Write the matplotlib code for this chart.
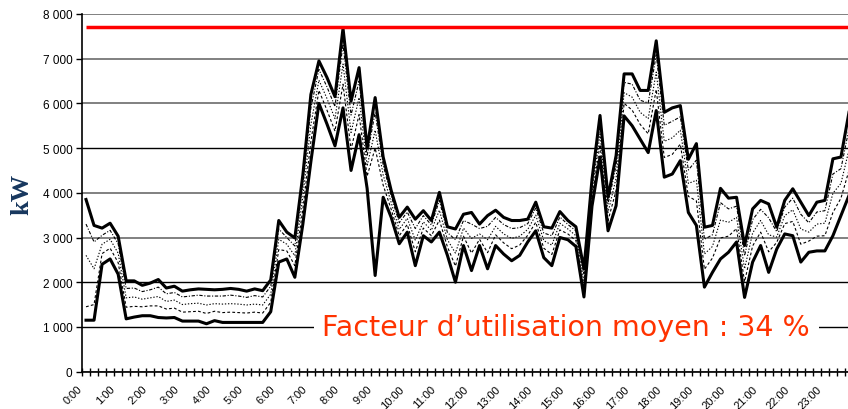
import numpy as np
import matplotlib.pyplot as plt
from matplotlib.transforms import ScaledTranslation

hours = ["0:00", "1:00", "2:00", "3:00", "4:00", "5:00", "6:00", "7:00",
         "8:00", "9:00", "10:00", "11:00", "12:00", "13:00", "14:00", "15:00",
         "16:00", "17:00", "18:00", "19:00", "20:00", "21:00", "22:00", "23:00"]

# quarter-hour load, kW (highest and lowest day of the set)
upper = [3850, 3270, 3210, 3320, 3030, 2030, 2030, 1930, 1980, 2060, 1870, 1910,
         1800, 1830, 1850, 1840, 1830, 1840, 1860, 1840, 1800, 1850, 1810, 2050,
         3380, 3120, 2990, 4400, 6200, 6950, 6580, 6150, 7680, 6050, 6800, 5000,
         6130, 4800, 4050, 3450, 3680, 3410, 3600, 3380, 4010, 3240, 3190, 3520,
         3560, 3300, 3490, 3610, 3450, 3380, 3380, 3410, 3790, 3240, 3210, 3580,
         3380, 3240, 2300, 4300, 5730, 3900, 4830, 6660, 6660, 6290, 6290, 7400,
         5800, 5900, 5950, 4750, 5100, 3230, 3270, 4100, 3880, 3900, 2820, 3640,
         3830, 3750, 3230, 3830, 4090, 3790, 3490, 3790, 3830, 4760, 4800, 5800]
lower = [1150, 1150, 2400, 2520, 2180, 1180, 1220, 1250, 1250, 1210, 1200, 1210,
         1130, 1130, 1130, 1070, 1140, 1100, 1100, 1100, 1100, 1100, 1100, 1340,
         2450, 2520, 2110, 3300, 4700, 6000, 5540, 5050, 5900, 4500, 5300, 4100,
         2150, 3900, 3450, 2860, 3120, 2370, 3040, 2900, 3120, 2600, 2000, 2820,
         2260, 2820, 2300, 2820, 2630, 2480, 2600, 2900, 3150, 2550, 2370, 3000,
         2950, 2800, 1670, 3700, 4800, 3150, 3710, 5720, 5500, 5200, 4900, 5840,
         4350, 4420, 4720, 3560, 3270, 1890, 2220, 2520, 2670, 2900, 1660, 2450,
         2820, 2220, 2740, 3080, 3040, 2450, 2670, 2700, 2700, 3040, 3490, 3940]

# other days, dashed
day_a = [1450, 1500, 2640, 2760, 2440, 1440, 1460, 1450, 1470, 1470, 1400, 1420,
         1330, 1340, 1350, 1300, 1350, 1320, 1330, 1320, 1310, 1330, 1310, 1550,
         2730, 2700, 2370, 3630, 5150, 6290, 5850, 5380, 6430, 4970, 5750, 4370,
         5000, 4170, 3630, 3040, 3290, 2680, 3210, 3040, 3390, 2790, 2360, 3030,
         2650, 2960, 2660, 3060, 2880, 2750, 2830, 3050, 3340, 2760, 2620, 3170,
         3080, 2930, 1860, 3880, 5080, 3380, 4050, 6000, 5850, 5530, 5320, 6310,
         4790, 4860, 5090, 3920, 3820, 2290, 2540, 2990, 3030, 3200, 2010, 2810,
         3120, 2680, 2890, 3310, 3360, 2850, 2920, 3030, 3040, 3560, 3880, 4500]
day_b = [2600, 2300, 2850, 2960, 2650, 1650, 1670, 1620, 1650, 1680, 1570, 1600,
         1500, 1520, 1530, 1490, 1520, 1510, 1520, 1510, 1490, 1510, 1490, 1730,
         2960, 2850, 2590, 3910, 5530, 6520, 6110, 5660, 6880, 5350, 6130, 4600,
         5400, 4400, 3780, 3180, 3430, 2940, 3350, 3160, 3610, 2950, 2650, 3210,
         2980, 3080, 2950, 3250, 3080, 2980, 3030, 3180, 3500, 2930, 2830, 3320,
         3190, 3040, 2020, 4030, 5310, 3560, 4330, 6240, 6140, 5800, 5660, 6700,
         5150, 5230, 5400, 4210, 4280, 2630, 2800, 3390, 3340, 3450, 2300, 3100,
         3380, 3060, 3010, 3490, 3620, 3190, 3120, 3300, 3320, 3990, 4210, 4960]
day_c = [3300, 2900, 3050, 3160, 2860, 1860, 1870, 1790, 1830, 1890, 1740, 1770,
         1670, 1690, 1710, 1690, 1690, 1690, 1710, 1690, 1660, 1700, 1670, 1910,
         3190, 3000, 2810, 4180, 5900, 6760, 6370, 5930, 7320, 5740, 6500, 4820,
         5800, 4620, 3930, 3330, 3570, 3200, 3490, 3280, 3830, 3110, 2950, 3380,
         3300, 3200, 3250, 3450, 3290, 3200, 3220, 3310, 3660, 3100, 3040, 3460,
         3290, 3150, 2170, 4180, 5540, 3750, 4610, 6470, 6430, 6070, 6010, 7090,
         5510, 5600, 5700, 4510, 4730, 2960, 3060, 3780, 3640, 3700, 2590, 3400,
         3630, 3440, 3130, 3680, 3880, 3520, 3330, 3570, 3600, 4420, 4540, 5430]

peak_kw = 7720
note = "Facteur d\u2019utilisation moyen : 34 %"

fig = plt.figure(figsize=(8.48, 4.10), dpi=100)
ax = fig.add_axes([82 / 848, 37.4 / 410, 771 / 848, 357.6 / 410])
x = np.arange(len(upper))
ax.set_xlim(-0.5, len(upper) - 0.5)
ax.set_ylim(0, 8000)

# gridlines
ax.set_yticks(np.arange(0, 8001, 1000))
ax.yaxis.set_major_formatter(lambda v, _: f"{int(v):,}".replace(",", " "))
ax.grid(axis="y", color="#767676", lw=1.3)
for g, v in zip(ax.get_ygridlines(), ax.get_yticks()):
    if v in (1000, 2000, 5000):
        g.set_color("black")
        g.set_linewidth(1.0)
ax.set_axisbelow(True)

dashes = [(0, (2.5, 2)), (0, (1.2, 1.6)), (0, (3, 1.5, 1, 1.5))]
for s, ls in zip([day_a, day_b, day_c], dashes):
    ax.plot(x, s, color="black", lw=0.8, ls=ls)
ax.plot(x, upper, color="black", lw=2.2)
ax.plot(x, lower, color="black", lw=2.2)

ax.hlines(peak_kw, x[0], x[-1], color="#ff0000", lw=2.5)

ax.text(59.8, 820, note, color="#ff3300", fontsize=20.5, ha="center",
        va="baseline", family="DejaVu Sans",
        bbox=dict(boxstyle="square,pad=0.3", fc="white", ec="none"))

for s in ("top", "right"):
    ax.spines[s].set_visible(False)
ax.spines["left"].set_linewidth(1.2)
ax.spines["bottom"].set_linewidth(1.2)

ax.set_xticks(np.arange(-0.5, len(upper), 1))
ax.set_xticklabels([])
ax.tick_params(axis="x", which="major", direction="inout", length=6, width=1)
ax.set_xticks(x[::4], minor=True)
ax.set_xticklabels(hours, minor=True, rotation=45, ha="right", va="center",
                   rotation_mode="anchor", fontsize=8, family="Liberation Sans")
ax.tick_params(axis="x", which="minor", length=0, pad=11)
for lbl in ax.get_xticklabels(minor=True):
    lbl.set_transform(lbl.get_transform() + ScaledTranslation(-0.05, 0, fig.dpi_scale_trans))
ax.tick_params(axis="y", length=4, width=1, pad=3)
for lbl in ax.get_yticklabels():
    lbl.set_fontsize(8.5)
    lbl.set_family("Liberation Sans")

fig.text(22 / 848, 1 - 194 / 410, "kW", rotation=90, ha="center", va="center",
         fontsize=19, fontweight="bold", family="Liberation Serif", color="#17375e")

fig.savefig("out.png", dpi=100)
